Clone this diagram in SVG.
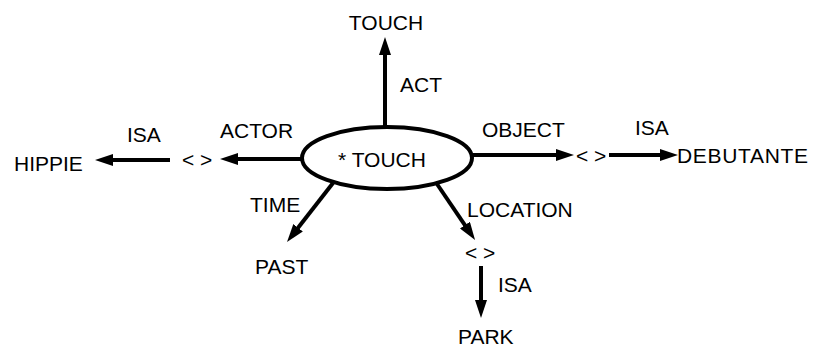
<svg xmlns="http://www.w3.org/2000/svg" width="815" height="347" viewBox="0 0 815 347">
  <style>
    text { font-family: "Liberation Sans", Arial, Helvetica, sans-serif; font-size: 21px; fill: #000; }
    .arc { stroke: #000; stroke-width: 4; fill: none; marker-end: url(#head); }
    .node-shape { stroke: #000; stroke-width: 4; fill: #fff; }
  </style>
  <defs>
    <marker id="head" markerUnits="userSpaceOnUse" markerWidth="18" markerHeight="12" refX="6" refY="6" orient="auto">
      <path d="M0,0 L18,6 L0,12 z" fill="#000"/>
    </marker>
  </defs>

  <!-- connectors -->
  <g id="connectors">
    <line class="arc" x1="385" y1="126" x2="385" y2="49"/>
    <line class="arc" x1="303" y1="159" x2="232" y2="159"/>
    <line class="arc" x1="170" y1="160" x2="107" y2="160"/>
    <line class="arc" x1="471" y1="155" x2="562" y2="155"/>
    <line class="arc" x1="609" y1="155" x2="666" y2="155"/>
    <line class="arc" x1="333" y1="183" x2="294.4" y2="232.5"/>
    <line class="arc" x1="437" y1="184" x2="468.3" y2="230.1"/>
    <line class="arc" x1="481" y1="266" x2="481" y2="306"/>
    <text x="400" y="92">ACT</text>
    <text x="220" y="138">ACTOR</text>
    <text x="127" y="142">ISA</text>
    <text x="482" y="137">OBJECT</text>
    <text x="635" y="135">ISA</text>
    <text x="250" y="212">TIME</text>
    <text x="467" y="217">LOCATION</text>
    <text x="498" y="292">ISA</text>
  </g>

  <!-- nodes -->
  <g id="touch-event">
    <ellipse class="node-shape" cx="387" cy="158" rx="85" ry="31"/>
    <text x="338" y="167">* TOUCH</text>
  </g>
  <g id="touch-act">
    <text x="386" y="30" text-anchor="middle">TOUCH</text>
  </g>
  <g id="actor-token">
    <text x="182" y="167">&lt; &gt;</text>
  </g>
  <g id="hippie">
    <text x="14" y="171">HIPPIE</text>
  </g>
  <g id="object-token">
    <text x="576" y="163">&lt; &gt;</text>
  </g>
  <g id="debutante">
    <text x="677" y="163" textLength="131">DEBUTANTE</text>
  </g>
  <g id="past">
    <text x="255" y="274">PAST</text>
  </g>
  <g id="location-token">
    <text x="465" y="260">&lt; &gt;</text>
  </g>
  <g id="park">
    <text x="458" y="344">PARK</text>
  </g>
</svg>
